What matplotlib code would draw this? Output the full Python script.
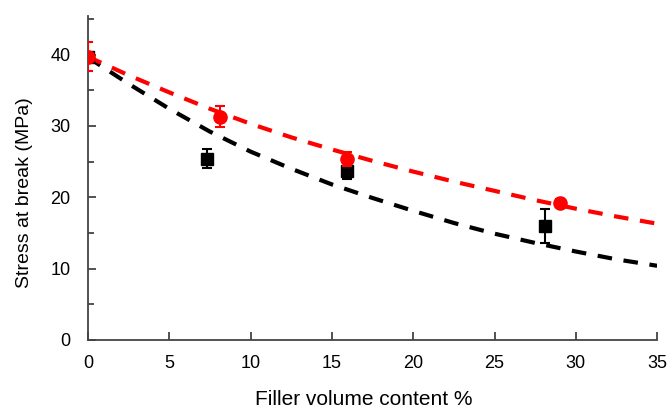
import numpy as np
import matplotlib
matplotlib.use("Agg")
import matplotlib.pyplot as plt

plt.rcParams['font.family'] = ['Liberation Sans', 'DejaVu Sans']

# ------------------- measured points ------------------- #
red_x = [0, 8.1, 15.9, 29.0]
red_y = [39.7, 31.3, 25.4, 19.2]
red_err = [2.0, 1.5, 1.0, 0.6]

black_x = [0, 7.3, 15.9, 28.1]
black_y = [39.7, 25.4, 23.7, 16.0]
black_err = [0.5, 1.3, 1.2, 2.4]

# ------------------- model curves ------------------- #
curve_x = [0, 2.5, 5, 7.5, 10, 12.5, 15, 17.5, 20, 22.5, 25, 27.5, 30, 32.5, 35]
red_curve = [39.7, 37.1, 34.7, 32.4, 30.3, 28.4, 26.7, 25.1, 23.6, 22.2,
             20.9, 19.6, 18.4, 17.3, 16.3]
black_curve = [39.6, 35.9, 32.4, 29.2, 26.4, 24.0, 21.8, 19.9, 18.1, 16.4,
               14.9, 13.6, 12.4, 11.3, 10.4]

xticks = [0, 5, 10, 15, 20, 25, 30, 35]
yticks = [0, 10, 20, 30, 40]

fig = plt.figure(figsize=(6.68, 4.08), dpi=100)
ax = fig.add_axes([0.1317, 0.1667, 0.852, 0.794])

ax.plot(curve_x, black_curve, color='black', lw=3, dashes=(3.5, 2.8), zorder=2)
ax.plot(curve_x, red_curve, color='red', lw=3, dashes=(3.5, 2.8), zorder=3)

ax.errorbar(black_x, black_y, yerr=black_err, fmt='s', color='black', ms=8.5,
            capsize=3.8, elinewidth=1.5, capthick=1.5, zorder=4)
ax.errorbar(red_x, red_y, yerr=red_err, fmt='o', color='red', ms=9.5,
            capsize=3.8, elinewidth=1.5, capthick=1.5, zorder=5)

ax.set_xlim(0, 35)
ax.set_ylim(0, 45.4)
ax.set_xticks(xticks)
ax.set_yticks(yticks)
ax.set_yticks([5, 15, 25, 35, 45], minor=True)

for side in ['top', 'right']:
    ax.spines[side].set_visible(False)
for side in ['left', 'bottom']:
    ax.spines[side].set_color('#444444')
    ax.spines[side].set_linewidth(1.3)

ax.tick_params(axis='both', which='both', direction='in', color='#444444',
               width=1.3, labelsize=13)
ax.tick_params(axis='x', which='major', length=6, pad=11)
ax.tick_params(axis='y', which='major', length=6, pad=12.5)
ax.tick_params(axis='y', which='minor', length=4)

ax.set_xlabel('Filler volume content %', fontsize=15, va='baseline')
ax.set_ylabel('Stress at break (MPa)', fontsize=14, va='center')
ax.xaxis.set_label_coords(0.485, -0.202)
ax.yaxis.set_label_coords(-0.111, 0.455)

fig.savefig('out.png', dpi=100)
